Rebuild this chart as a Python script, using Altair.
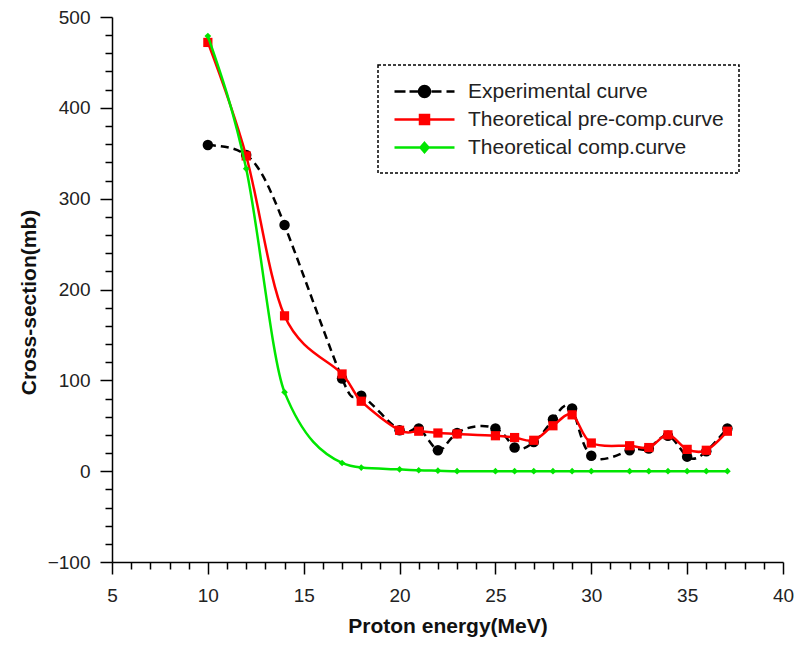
import altair as alt
import pandas as pd

# ---- data ----
energy = [10, 12, 14, 17, 18, 20, 21, 22, 23, 25, 26, 27, 28, 29, 30, 32, 33, 34, 35, 36, 37.1]
experimental = [359, 348, 271, 102, 83, 45, 47, 23, 42, 47, 26, 32, 57, 69, 17, 23, 25, 39, 16, 22, 47]
pre_comp = [472, 347, 171, 107, 77, 45, 44, 42, 41, 39, 37, 34, 50, 62, 31, 28, 26, 40, 24, 23, 44]
comp = [479, 333, 87, 9, 4, 2, 1, 0.5, 0, 0, 0, 0, 0, 0, 0, 0, 0, 0, 0, 0, 0]

series_names = ["Experimental curve", "Theoretical pre-comp.curve", "Theoretical comp.curve"]
series_values = [experimental, pre_comp, comp]
series_colors = ["#000000", "#ff0000", "#00e600"]

x_ticks = list(range(5, 41, 1))
y_ticks = list(range(-100, 501, 20))

rows = []
for name, vals in zip(series_names, series_values):
    for e, v in zip(energy, vals):
        rows.append({"energy": e, "value": v, "series": name})
df = pd.DataFrame(rows)

FONT = "Liberation Sans"

x_axis = alt.Axis(
    values=x_ticks,
    labelExpr="datum.value % 5 === 0 ? datum.label : ''",
    tickSize={"condition": {"test": "datum.value % 5 === 0", "value": 12}, "value": 7},
    grid=False,
    labelFont=FONT, labelFontSize=19, labelColor="#222222", labelPadding=12,
    titleFont=FONT, titleFontSize=21, titleFontWeight="bold", titleColor="#111111", titlePadding=10,
    domainColor="black", domainWidth=1.5, tickColor="black", tickWidth=1.5,
    labelFlush=False, labelOverlap=False,
)
y_axis = alt.Axis(
    values=y_ticks,
    labelExpr="datum.value % 100 === 0 ? datum.label : ''",
    tickSize={"condition": {"test": "datum.value % 100 === 0", "value": 12}, "value": 7},
    grid=False,
    labelFont=FONT, labelFontSize=19, labelColor="#222222", labelPadding=10,
    titleFont=FONT, titleFontSize=21, titleFontWeight="bold", titleColor="#111111", titlePadding=8,
    titleY=285,
    domainColor="black", domainWidth=1.5, tickColor="black", tickWidth=1.5,
    labelFlush=False, labelOverlap=False,
)

base = alt.Chart(df).encode(
    x=alt.X("energy:Q", title="Proton energy(MeV)",
            scale=alt.Scale(domain=[5, 40], nice=False, zero=False), axis=x_axis),
    y=alt.Y("value:Q", title="Cross-section(mb)",
            scale=alt.Scale(domain=[-100, 500], nice=False), axis=y_axis),
)

styles = [
    dict(interp="natural", dash=[8, 5], shape="circle", size=110),
    dict(interp="cardinal", dash=None, shape="square", size=85),
    dict(interp="monotone", dash=None, shape="diamond", size=45),
]

layers = []
for name, color, st in zip(series_names, series_colors, styles):
    sub = base.transform_filter(alt.datum.series == name)
    line_kw = dict(color=color, strokeWidth=2.5, interpolate=st["interp"])
    if st["dash"]:
        line_kw["strokeDash"] = st["dash"]
    layers.append(sub.mark_line(**line_kw))
    layers.append(sub.mark_point(filled=True, shape=st["shape"], size=st["size"], color=color, opacity=1))

# legend symbols: line + marker (unit = 10 px, line spans -1..5, marker centred at 2)
legend_paths = [
    "M-1,0H0.1M0.5,0H1.4M2.7,0H3.7M4.2,0H5"
    "M1.45,0A0.55,0.55 0 1,0 2.55,0A0.55,0.55 0 1,0 1.45,0Z",
    "M-1,0H5M1.55,-0.45H2.45V0.45H1.55Z",
    "M-1,0H5M2,-0.45L2.4,0L2,0.45L1.6,0Z",
]
legend_layer = base.transform_filter("false").mark_point(filled=True, opacity=1).encode(
    shape=alt.Shape("series:N", scale=alt.Scale(domain=series_names, range=legend_paths),
                    legend=alt.Legend(title=None, orient="none", legendX=266, legendY=48,
                                      symbolSize=400, symbolStrokeWidth=2.5, symbolOpacity=1,
                                      labelFont=FONT, labelFontSize=21, labelColor="#222222",
                                      labelOffset=52, labelLimit=400, rowPadding=6, padding=15,
                                      strokeColor="black")),
    fill=alt.Fill("series:N", scale=alt.Scale(domain=series_names, range=series_colors)),
    stroke=alt.Stroke("series:N", scale=alt.Scale(domain=series_names, range=series_colors)),
)
layers.append(legend_layer)

chart = alt.layer(*layers).properties(
    width=671, height=545,
    padding={"left": 112, "top": 17, "right": 14, "bottom": 85},
    autosize=alt.AutoSizeParams(type="none"),
    background="white",
).configure_view(stroke=None).configure_legend(
    strokeDash=[3, 2], strokeWidth=1.5,
)

chart.save("out.html", embed_options={"renderer": "svg", "actions": False})
